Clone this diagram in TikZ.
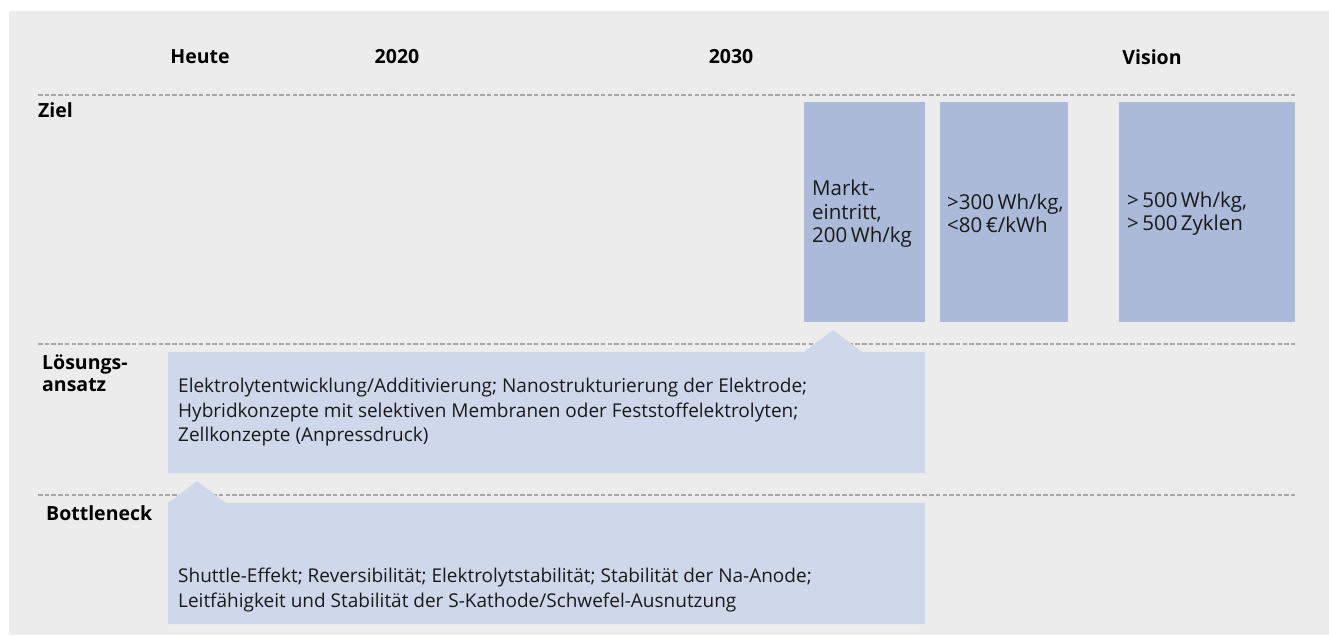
\documentclass[tikz,border=0pt]{standalone}
\usepackage{fontspec}
\setmainfont{Open Sans}
\usepackage{tikz}
\usetikzlibrary{positioning}
\definecolor{bggray}{HTML}{ECECEC}
\definecolor{zielblue}{HTML}{ABBAD8}
\definecolor{paleblue}{HTML}{CFD8EB}
\definecolor{rulegray}{HTML}{A8A8A8}

\tikzset{
  head/.style={font=\fontsize{19.5}{22}\selectfont\bfseries, inner sep=0pt},
  rowlabel/.style={font=\fontsize{19.5}{22}\selectfont\bfseries, anchor=west, align=left, inner sep=0pt},
  bodytext/.style={font=\fontsize{19}{24.5}\selectfont, anchor=west, align=left, inner sep=0pt, text=black!90},
  zieltext/.style={font=\fontsize{20.5}{23.5}\selectfont, anchor=west, align=left, inner sep=0pt, text=black!90},
  rowrule/.style={rulegray, line width=1.2pt, dash pattern=on 4.5pt off 2.2pt}
}

\begin{document}
\begin{tikzpicture}[x=1pt,y=-1pt]
  \useasboundingbox (0,0) rectangle (1329,635);
  \fill[bggray] (9,11) rectangle (1329,635);

  % --- Zeitachse ---
  \node[head] (heute) at (200,57) {Heute};
  \node[head] (j2020) at (397,57) {2020};
  \node[head] (j2030) at (731,57) {2030};
  \node[head] (vision) at (1152,57) {Vision};

  % Trennlinien
  \draw[rowrule] (38,95) -- (1295,95);
  \draw[rowrule] (38,344) -- (1295,344);
  \draw[rowrule] (38,495) -- (1295,495);

  % --- Zeile: Ziel ---
  \node[rowlabel] (ziel) at (38,110) {Ziel};
  \fill[zielblue] (804,102) rectangle (925,322);
  \fill[zielblue] (940,102) rectangle (1068,322);
  \fill[zielblue] (1119,102) rectangle (1295,322);
  \node[zieltext] (markt) at (812,214) {Markt-\\eintritt,\\200\,Wh/kg};
  \node[zieltext] (ziel2030) at (947,213.5) {>300\,Wh/kg,\\<80\,€/kWh};
  \node[zieltext] (zielvision) at (1127,213.5) {>\,500\,Wh/kg,\\>\,500\,Zyklen};

  % --- Zeile: Lösungsansatz ---
  \node[rowlabel] (loesung) at (42,373) {Lösungs-\\ansatz};
  \fill[paleblue] (168,352) -- (804,352) -- (833,330) -- (862,352) -- (925,352)
    -- (925,473) -- (168,473) -- cycle;
  \node[bodytext] (loesungtext) at (178,412.5)
    {Elektrolytentwicklung/Additivierung; Nanostrukturierung der Elektrode;\\
     Hybridkonzepte mit selektiven Membranen oder Feststoffelektrolyten;\\
     Zellkonzepte (Anpressdruck)};

  % --- Zeile: Bottleneck ---
  \node[rowlabel] (bottleneck) at (46,513) {Bottleneck};
  \fill[paleblue] (168,503) -- (197,481) -- (226,503) -- (925,503)
    -- (925,624) -- (168,624) -- cycle;
  \node[bodytext] (bottlenecktext) at (178,590)
    {Shuttle-Effekt; Reversibilität; Elektrolytstabilität; Stabilität der Na-Anode;\\
     Leitfähigkeit und Stabilität der S-Kathode/Schwefel-Ausnutzung};
\end{tikzpicture}
\end{document}
